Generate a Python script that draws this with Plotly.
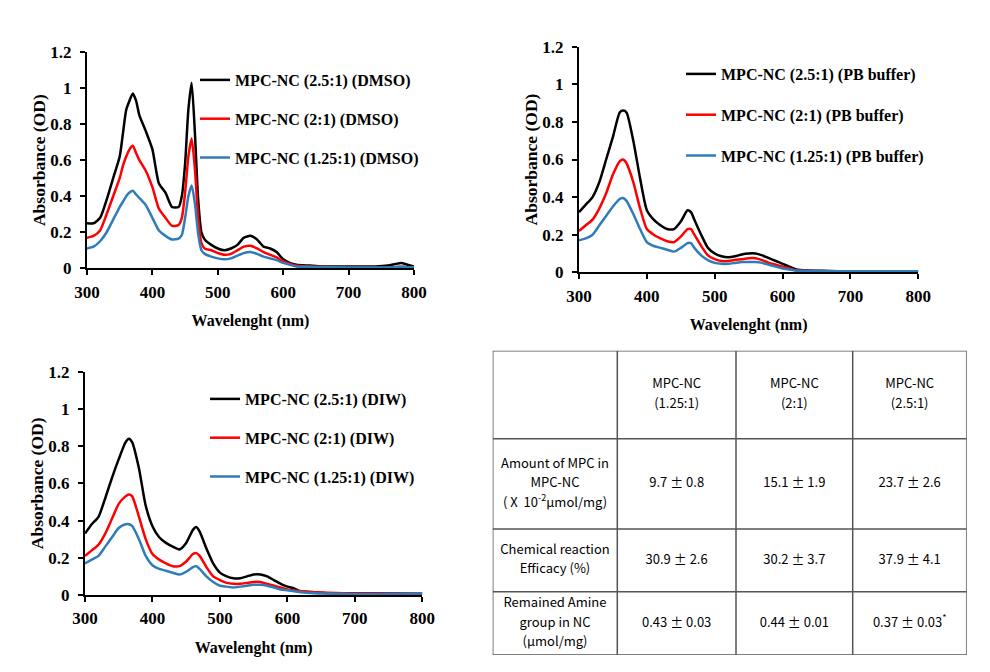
import plotly.graph_objects as go

# ---------------- data ----------------
wl_dmso = [300, 310, 320, 330, 340, 350, 355, 360, 365, 370, 375, 380, 390, 400, 410, 420, 430, 440, 445,
           450, 455, 460, 465, 470, 475, 480, 490, 500, 510, 520, 530, 540, 550, 560, 570, 580, 590, 600,
           610, 620, 640, 660, 700, 740, 760, 780, 790, 800]
dmso_25 = [0.25, 0.25, 0.28, 0.38, 0.50, 0.62, 0.75, 0.88, 0.93, 0.97, 0.93, 0.85, 0.76, 0.66, 0.47, 0.42,
           0.34, 0.34, 0.40, 0.58, 0.88, 1.03, 0.75, 0.38, 0.20, 0.16, 0.13, 0.11, 0.10, 0.11, 0.13, 0.17,
           0.18, 0.16, 0.12, 0.11, 0.09, 0.05, 0.03, 0.02, 0.015, 0.01, 0.01, 0.01, 0.015, 0.03, 0.02, 0.01]
dmso_2 = [0.17, 0.18, 0.21, 0.30, 0.40, 0.50, 0.57, 0.62, 0.66, 0.68, 0.64, 0.60, 0.54, 0.45, 0.33, 0.28,
          0.235, 0.24, 0.28, 0.42, 0.62, 0.72, 0.55, 0.28, 0.14, 0.11, 0.10, 0.085, 0.075, 0.08, 0.10, 0.12,
          0.125, 0.11, 0.09, 0.075, 0.06, 0.04, 0.025, 0.015, 0.01, 0.008, 0.005, 0.005, 0.005, 0.008, 0.006, 0.005]
dmso_125 = [0.11, 0.12, 0.15, 0.20, 0.27, 0.34, 0.37, 0.40, 0.42, 0.43, 0.41, 0.39, 0.35, 0.28, 0.21, 0.18,
            0.16, 0.165, 0.185, 0.28, 0.40, 0.46, 0.36, 0.19, 0.10, 0.08, 0.065, 0.055, 0.05, 0.055, 0.07, 0.085,
            0.09, 0.08, 0.065, 0.055, 0.045, 0.03, 0.02, 0.01, 0.008, 0.006, 0.005, 0.005, 0.005, 0.008, 0.006, 0.005]

wl = [300, 310, 320, 330, 340, 350, 360, 365, 370, 380, 390, 400, 410, 420, 430, 440, 450, 460, 465, 470,
      480, 490, 500, 510, 520, 530, 540, 550, 560, 570, 580, 590, 600, 610, 620, 640, 660, 700, 800]
pb_25 = [0.32, 0.36, 0.40, 0.48, 0.60, 0.72, 0.85, 0.86, 0.85, 0.70, 0.50, 0.33, 0.28, 0.25, 0.23, 0.23,
         0.27, 0.33, 0.32, 0.28, 0.20, 0.13, 0.10, 0.085, 0.08, 0.085, 0.095, 0.10, 0.10, 0.09, 0.075, 0.06,
         0.045, 0.03, 0.015, 0.01, 0.008, 0.005, 0.005]
pb_2 = [0.22, 0.25, 0.28, 0.34, 0.42, 0.52, 0.59, 0.60, 0.58, 0.48, 0.34, 0.23, 0.20, 0.18, 0.165, 0.16,
        0.19, 0.23, 0.23, 0.20, 0.14, 0.09, 0.07, 0.06, 0.06, 0.065, 0.07, 0.075, 0.075, 0.065, 0.05, 0.04,
        0.03, 0.02, 0.01, 0.008, 0.006, 0.005, 0.005]
pb_125 = [0.17, 0.18, 0.20, 0.25, 0.30, 0.35, 0.39, 0.395, 0.38, 0.31, 0.23, 0.16, 0.14, 0.13, 0.12, 0.11,
          0.13, 0.155, 0.155, 0.13, 0.09, 0.065, 0.05, 0.045, 0.045, 0.05, 0.055, 0.055, 0.055, 0.05, 0.04,
          0.03, 0.02, 0.015, 0.01, 0.008, 0.006, 0.005, 0.005]
diw_25 = [0.33, 0.38, 0.42, 0.52, 0.63, 0.73, 0.82, 0.84, 0.82, 0.68, 0.48, 0.37, 0.31, 0.28, 0.26, 0.245,
          0.28, 0.35, 0.365, 0.34, 0.25, 0.17, 0.12, 0.10, 0.09, 0.09, 0.10, 0.11, 0.11, 0.10, 0.08, 0.06,
          0.045, 0.035, 0.02, 0.015, 0.01, 0.01, 0.01]
diw_2 = [0.21, 0.24, 0.27, 0.33, 0.41, 0.49, 0.53, 0.54, 0.53, 0.42, 0.30, 0.22, 0.19, 0.17, 0.155, 0.155,
         0.18, 0.22, 0.225, 0.21, 0.15, 0.10, 0.08, 0.065, 0.06, 0.06, 0.065, 0.07, 0.07, 0.06, 0.05, 0.04,
         0.03, 0.025, 0.02, 0.015, 0.012, 0.008, 0.008]
diw_125 = [0.17, 0.19, 0.21, 0.26, 0.31, 0.36, 0.38, 0.38, 0.37, 0.30, 0.21, 0.16, 0.14, 0.13, 0.12, 0.11,
           0.125, 0.15, 0.155, 0.14, 0.10, 0.07, 0.05, 0.045, 0.04, 0.045, 0.05, 0.055, 0.055, 0.05, 0.04,
           0.03, 0.025, 0.02, 0.015, 0.01, 0.008, 0.005, 0.01]

ratios = ["2.5:1", "2:1", "1.25:1"]
solvents = ["DMSO", "PB buffer", "DIW"]

table_header = ["", "MPC-NC<br>(1.25:1)", "MPC-NC<br>(2:1)", "MPC-NC<br>(2.5:1)"]
table_row_labels = ["Amount of MPC in<br>MPC-NC<br>( X  10<sup>-2</sup>μmol/mg)",
                    "Chemical reaction<br>Efficacy (%)",
                    "Remained Amine<br>group in NC<br>(μmol/mg)"]
mpc_amount = ["9.7 ± 0.8", "15.1 ± 1.9", "23.7 ± 2.6"]
reaction_efficacy = ["30.9 ± 2.6", "30.2 ± 3.7", "37.9 ± 4.1"]
remained_amine = ["0.43 ± 0.03", "0.44 ± 0.01", "0.37 ± 0.03<sup>*</sup>"]

# ---------------- styling ----------------
W, H = 990, 672
SERIF = "Liberation Serif"
SANS = "Noto Sans CJK KR"
colors = ["#000000", "#FF0000", "#2E7DBA"]


def px_x(p):
    return p / W


def px_y(p):
    return 1 - p / H


fig = go.Figure()

panels = [
    (wl_dmso, [dmso_25, dmso_2, dmso_125], solvents[0], "x", "y", "legend"),
    (wl, [pb_25, pb_2, pb_125], solvents[1], "x2", "y2", "legend2"),
    (wl, [diw_25, diw_2, diw_125], solvents[2], "x3", "y3", "legend3"),
]
for wls, series, solv, xa, ya, lg in panels:
    for i, vals in enumerate(series):
        fig.add_trace(go.Scatter(
            x=wls, y=vals, mode="lines",
            name=f"MPC-NC ({ratios[i]}) ({solv})",
            line=dict(color=colors[i], width=2.5, shape="spline", smoothing=0.6),
            xaxis=xa, yaxis=ya, legend=lg, legendgroup=f"{lg}_{i}",
            hoverinfo="skip"))

# domains in pixels: (left, right, top, bottom)
dom = {
    "1": (87, 414, 52, 268.3),
    "2": (579, 918.3, 46.7, 272.3),
    "3": (85, 422.3, 371.7, 595),
}
tickfont = dict(family=SERIF, size=17, color="black", weight="bold")
xtitlefont = dict(family=SERIF, size=16, color="black", weight="bold")
ytitlefont = dict(family=SERIF, size=17.5, color="black", weight="bold")
for k, (l, r, t, b) in dom.items():
    sfx = "" if k == "1" else k
    fig.update_layout(**{
        f"xaxis{sfx}": dict(
            domain=[px_x(l), px_x(r)], range=[300, 800], dtick=100, tick0=300,
            showline=True, linecolor="black", linewidth=2, ticks="outside", ticklen=5,
            tickwidth=1.5, tickcolor="black", showgrid=False, zeroline=False,
            tickfont=tickfont, anchor=f"y{sfx}", automargin=False, ticklabelstandoff=2,
            title=dict(text="Wavelenght (nm)", font=xtitlefont, standoff=14)),
        f"yaxis{sfx}": dict(
            domain=[px_y(b), px_y(t)], range=[0, 1.2], dtick=0.2, tick0=0,
            showline=True, linecolor="black", linewidth=2, ticks="outside", ticklen=5,
            tickwidth=1.5, tickcolor="black", showgrid=False, zeroline=False,
            tickfont=tickfont, anchor=f"x{sfx}", automargin=False, ticklabelstandoff=5,
            title=dict(text="Absorbance (OD)", font=ytitlefont, standoff=0)),
    })

legend_style = dict(font=dict(family=SERIF, size=16, color="black", weight="bold"),
                    bgcolor="rgba(0,0,0,0)", tracegroupgap=15, itemwidth=30,
                    xanchor="left", yanchor="top", traceorder="grouped")
fig.update_layout(
    legend=dict(x=px_x(195), y=px_y(63), **legend_style),
    legend2=dict(x=px_x(681), y=px_y(57), tracegroupgap=17,
                 **{k: v for k, v in legend_style.items() if k != "tracegroupgap"}),
    legend3=dict(x=px_x(205), y=px_y(382), **legend_style),
)

# ---------------- table ----------------
col_w = [124.6, 118.7, 116.7, 114.0]
row_h = [88.0, 90.3, 62.7, 63.3]
line_gap = 19.5
tl, tt = 492.7, 350.7
tw, th = sum(col_w), sum(row_h)
col_edges = [0]
for c in col_w:
    col_edges.append(col_edges[-1] + c)
row_edges = [0]
for r in row_h:
    row_edges.append(row_edges[-1] + r)

fig.update_layout(
    xaxis4=dict(domain=[px_x(tl), px_x(tl + tw)], range=[0, tw], visible=False, fixedrange=True, anchor="y4"),
    yaxis4=dict(domain=[px_y(tt + th), px_y(tt)], range=[th, 0], visible=False, fixedrange=True, anchor="x4"),
)
shapes = []
for xe in col_edges:
    shapes.append(dict(type="line", xref="x4", yref="y4", x0=xe, x1=xe, y0=0, y1=th,
                       line=dict(color="#555555", width=1.5)))
for ye in row_edges:
    shapes.append(dict(type="line", xref="x4", yref="y4", x0=0, x1=tw, y0=ye, y1=ye,
                       line=dict(color="#555555", width=1.5)))
fig.update_layout(shapes=shapes)

rows = [table_header,
        [table_row_labels[0]] + mpc_amount,
        [table_row_labels[1]] + reaction_efficacy,
        [table_row_labels[2]] + remained_amine]
tx, ty, tt_ = [], [], []
for ri, row in enumerate(rows):
    for ci, txt in enumerate(row):
        if not txt:
            continue
        lines = txt.split("<br>")
        cx = (col_edges[ci] + col_edges[ci + 1]) / 2
        cy = (row_edges[ri] + row_edges[ri + 1]) / 2
        for j, ln in enumerate(lines):
            tx.append(cx)
            ty.append(cy + (j - (len(lines) - 1) / 2) * line_gap)
            tt_.append(ln)
fig.add_trace(go.Scatter(x=tx, y=ty, text=tt_, mode="text", textposition="middle center",
                         textfont=dict(family=SANS, size=13, color="#000000"),
                         xaxis="x4", yaxis="y4", showlegend=False, hoverinfo="skip"))

fig.update_layout(
    width=W, height=H, margin=dict(l=0, r=0, t=0, b=0),
    paper_bgcolor="white", plot_bgcolor="white",
)

fig.write_html("out.html", config={"displayModeBar": False},
               post_script="document.body.style.margin='0';")
